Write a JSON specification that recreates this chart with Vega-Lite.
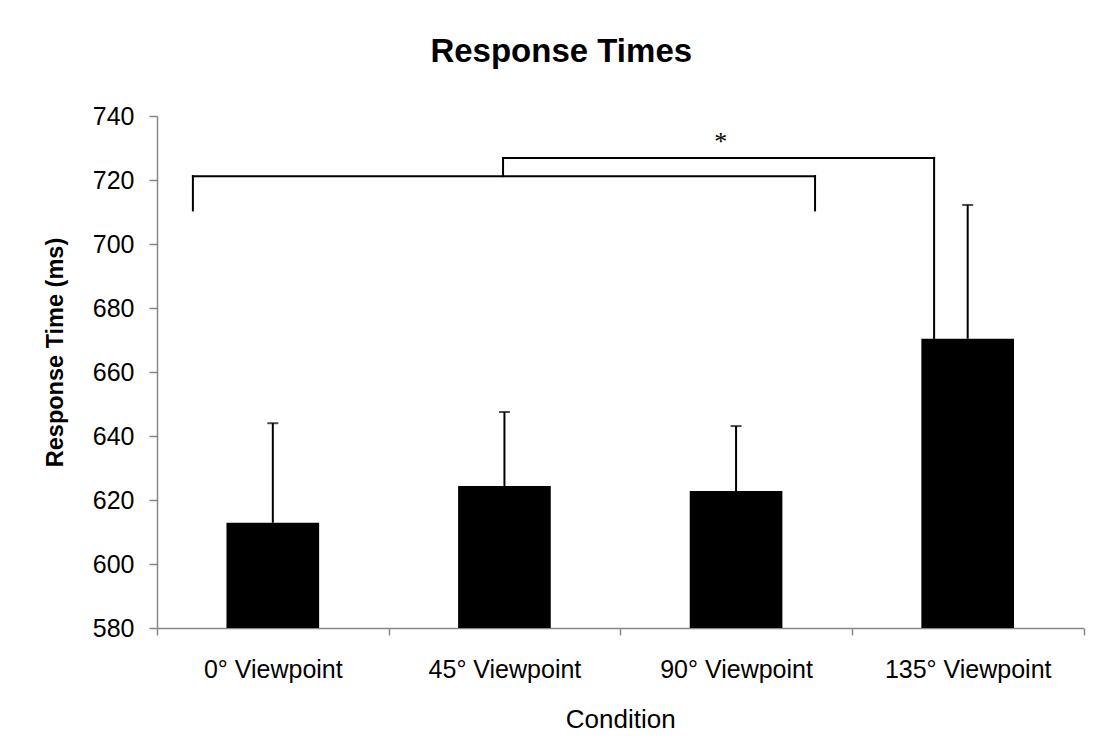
{
  "$schema": "https://vega.github.io/schema/vega-lite/v6.json",
  "width": 926.5,
  "height": 512,
  "autosize": {"type": "none"},
  "padding": {"left": 157, "top": 116, "right": 21.5, "bottom": 123},
  "background": "white",
  "config": {
    "view": {"stroke": null},
    "font": "Liberation Sans",
    "axis": {"labelColor": "black", "titleColor": "black", "domainColor": "#888888", "tickColor": "#888888", "domainWidth": 1.5, "tickWidth": 1.5, "grid": false}
  },
  "title": {
    "text": "Response Times",
    "font": "Liberation Sans",
    "fontSize": 33,
    "fontWeight": "bold",
    "color": "black",
    "anchor": "middle",
    "frame": "group",
    "dx": -59,
    "baseline": "alphabetic",
    "offset": 9
  },
  "datasets": {
    "rt": [
      {"condition": "0° Viewpoint", "mean": 612.9, "upper": 644.0},
      {"condition": "45° Viewpoint", "mean": 624.4, "upper": 647.5},
      {"condition": "90° Viewpoint", "mean": 622.8, "upper": 643.1},
      {"condition": "135° Viewpoint", "mean": 670.4, "upper": 712.2}
    ],
    "bracket": [
      {"pos": 0.155, "pos2": 0.155, "ms": 710.5, "ms2": 721.2},
      {"pos": 0.155, "pos2": 2.841, "ms": 721.2, "ms2": 721.2},
      {"pos": 2.841, "pos2": 2.841, "ms": 721.2, "ms2": 710.5},
      {"pos": 1.494, "pos2": 1.494, "ms": 721.2, "ms2": 726.9},
      {"pos": 1.494, "pos2": 3.355, "ms": 726.9, "ms2": 726.9},
      {"pos": 3.355, "pos2": 3.355, "ms": 726.9, "ms2": 670.4}
    ],
    "sig": [{"pos": 2.434, "ms": 729.5, "label": "*"}]
  },
  "layer": [
    {
      "data": {"name": "rt"},
      "encoding": {
        "x": {
          "field": "condition",
          "type": "nominal",
          "sort": null,
          "scale": {"paddingInner": 0, "paddingOuter": 0},
          "axis": {
            "title": "Condition",
            "labelAngle": 0,
            "labelFontSize": 25,
            "labelPadding": 22,
            "tickBand": "extent",
            "tickSize": 7,
            "titleFontSize": 26,
            "titleFontWeight": "normal",
            "titleBaseline": "alphabetic",
            "titleY": 99
          }
        }
      },
      "layer": [
        {
          "mark": {"type": "rule", "color": "black", "strokeWidth": 2},
          "encoding": {
            "y": {"field": "mean", "type": "quantitative", "scale": {"domain": [580, 740], "nice": false, "zero": false}},
            "y2": {"field": "upper"}
          }
        },
        {
          "mark": {"type": "tick", "color": "black", "thickness": 2, "size": 11},
          "encoding": {
            "y": {"field": "upper", "type": "quantitative", "scale": {"domain": [580, 740], "nice": false, "zero": false}}
          }
        },
        {
          "mark": {"type": "bar", "color": "black", "width": {"band": 0.4}},
          "encoding": {
            "y": {
              "field": "mean",
              "type": "quantitative",
              "scale": {"domain": [580, 740], "nice": false, "zero": false},
              "axis": {
                "title": "Response Time (ms)",
                "values": [580, 600, 620, 640, 660, 680, 700, 720, 740],
                "tickSize": 8,
                "labelFontSize": 25,
                "labelPadding": 15,
                "titleFontSize": 23.5,
                "titleFontWeight": "bold",
                "titleAngle": -90,
                "titleAlign": "center",
                "titleBaseline": "alphabetic",
                "titleX": -95,
                "titleY": 236
              }
            },
            "y2": {"datum": 580}
          }
        }
      ]
    },
    {
      "layer": [
        {
          "data": {"name": "bracket"},
          "mark": {"type": "rule", "color": "black", "strokeWidth": 2, "strokeCap": "square"},
          "encoding": {
            "x": {"field": "pos", "type": "quantitative", "scale": {"domain": [0, 4], "nice": false, "zero": false}, "axis": null},
            "x2": {"field": "pos2"},
            "y": {"field": "ms", "type": "quantitative", "scale": {"domain": [580, 740], "nice": false, "zero": false}},
            "y2": {"field": "ms2"}
          }
        },
        {
          "data": {"name": "sig"},
          "mark": {"type": "text", "font": "Liberation Serif", "fontSize": 26, "color": "black", "baseline": "alphabetic", "align": "center"},
          "encoding": {
            "x": {"field": "pos", "type": "quantitative", "scale": {"domain": [0, 4], "nice": false, "zero": false}, "axis": null},
            "y": {"field": "ms", "type": "quantitative", "scale": {"domain": [580, 740], "nice": false, "zero": false}},
            "text": {"field": "label"}
          }
        }
      ]
    }
  ],
  "resolve": {"scale": {"x": "independent"}, "axis": {"x": "independent"}}
}
